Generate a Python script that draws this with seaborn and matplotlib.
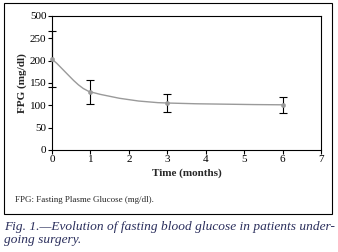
import numpy as np
import matplotlib
matplotlib.use("Agg")
import matplotlib.pyplot as plt
from matplotlib.path import Path
from matplotlib.patches import PathPatch, Rectangle
import seaborn as sns
import pandas as pd

# ---- data ----
months = [0, 1, 3, 6]
fpg_mean = [203, 130, 105, 101]
fpg_err = [63, 27, 21, 18]
ytick_vals = [0, 50, 100, 150, 200, 250, 300]
ytick_labels = ["0", "50", "100", "150", "200", "250", "500"]
xtick_vals = [0, 1, 2, 3, 4, 5, 6, 7]

sns.set_theme(style="ticks")
plt.rcParams["font.family"] = ["Liberation Serif", "DejaVu Serif"]

fig = plt.figure(figsize=(3.38, 2.52), dpi=100)
ax = fig.add_axes([0.154, 0.405, 0.796, 0.532])

df = pd.DataFrame({"t": months, "fpg": fpg_mean})

# smooth monotone curve (Hermite -> Bezier) through data points
x = np.array(months, float)
y = np.array(fpg_mean, float)
h = np.diff(x)
d = np.diff(y) / h
m = np.zeros_like(y)
for k in range(1, len(x) - 1):
    w1 = 2 * h[k] + h[k - 1]
    w2 = h[k] + 2 * h[k - 1]
    m[k] = (w1 + w2) / (w1 / d[k - 1] + w2 / d[k])
m[0] = ((2 * h[0] + h[1]) * d[0] - h[0] * d[1]) / (h[0] + h[1]) * 0.75
m[-1] = d[-1] * 0.5
verts = [(x[0], y[0])]
codes = [Path.MOVETO]
for k in range(len(x) - 1):
    verts += [(x[k] + h[k] / 3, y[k] + m[k] * h[k] / 3),
              (x[k + 1] - h[k] / 3, y[k + 1] - m[k + 1] * h[k] / 3),
              (x[k + 1], y[k + 1])]
    codes += [Path.CURVE4] * 3
ax.add_patch(PathPatch(Path(verts, codes), facecolor="none",
                       edgecolor="#9a9a9a", lw=1.0, zorder=2))

ax.errorbar(months, fpg_mean, yerr=fpg_err, fmt="none", ecolor="black",
            elinewidth=0.8, capsize=3, capthick=0.8, zorder=3, clip_on=False)
sns.scatterplot(data=df, x="t", y="fpg", ax=ax, color="#9a9a9a", s=10,
                edgecolor="#9a9a9a", zorder=4, clip_on=False, legend=False)

ax.set_xlim(0, 7)
ax.set_ylim(0, 300)
ax.set_xticks(xtick_vals)
ax.set_xticklabels([str(v) for v in xtick_vals])
ax.set_yticks(ytick_vals)
ax.set_yticklabels(ytick_labels)
for s in ax.spines.values():
    s.set_linewidth(0.8)
    s.set_color("black")
ax.tick_params(axis="both", labelsize=8, length=3, width=0.8, pad=1,
               colors="black")
ax.set_xlabel("Time (months)", fontsize=8, fontweight="bold", labelpad=3)
ax.set_ylabel("FPG (mg/dl)", fontsize=8, fontweight="bold", labelpad=2)

# outer box
fig.patches.append(Rectangle((4 / 338, 1 - 214 / 252), 328 / 338, 211 / 252,
                             transform=fig.transFigure, fill=False,
                             edgecolor="black", lw=0.8))
fig.text(15 / 338, 1 - 200 / 252, "FPG: Fasting Plasme Glucose (mg/dl).",
         fontsize=6.5, va="center", ha="left")
fig.text(4 / 338, 1 - 227 / 252,
         "Fig. 1.\u2014Evolution of fasting blood glucose in patients under-",
         fontsize=9.6, style="italic", color="#2a2e5c", va="center", ha="left")
fig.text(4 / 338, 1 - 240 / 252, "going surgery.",
         fontsize=9.6, style="italic", color="#2a2e5c", va="center", ha="left")

fig.savefig("out.png", dpi=100)
